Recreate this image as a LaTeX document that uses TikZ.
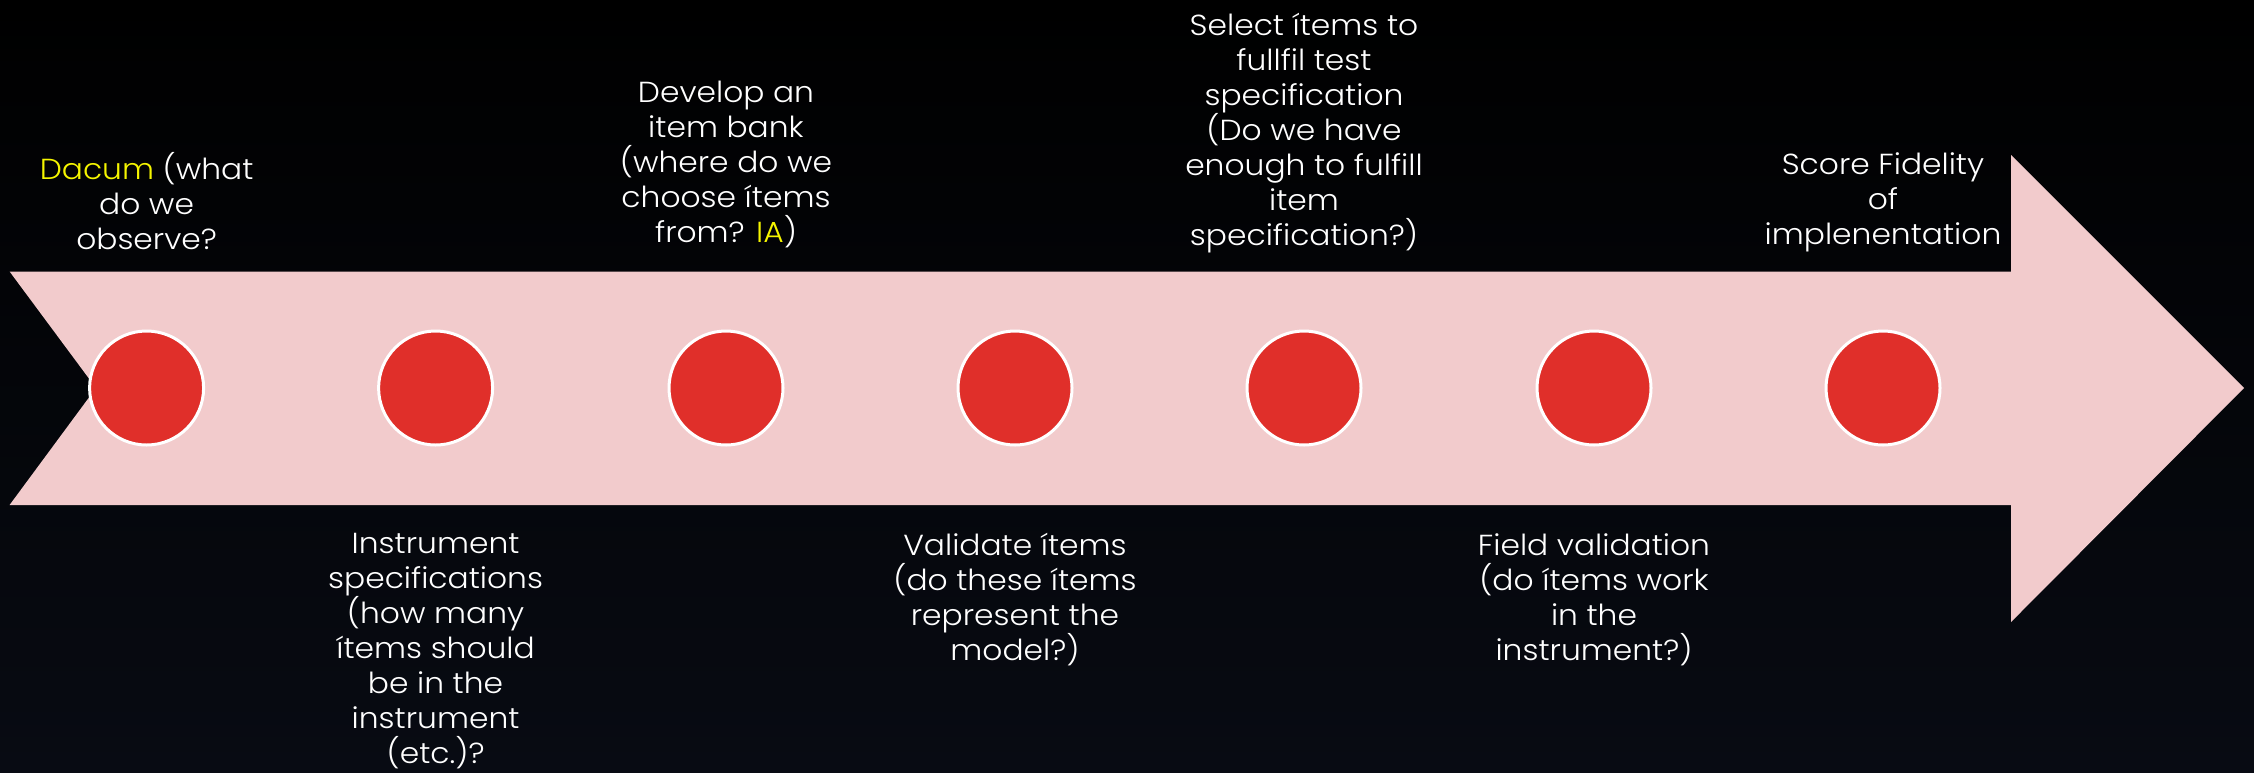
\documentclass[tikz,border=0pt]{standalone}
\usepackage{fontspec}
\setmainfont{Poppins}[UprightFont=* Light, FakeStretch=1.08]
\definecolor{arrowpink}{HTML}{F2CBCC}
\definecolor{dotred}{HTML}{E02F2A}
\definecolor{dyel}{HTML}{F5F500}
\definecolor{bgtop}{HTML}{000000}
\definecolor{bgbot}{HTML}{080B13}
\tikzset{
  dot/.style={circle, fill=dotred, draw=white, line width=2.25pt, minimum size=85.5pt, inner sep=0pt},
  lbl/.style={text=white, align=center, inner sep=0pt, anchor=north,
    font=\fontsize{21.75pt}{26.25pt}\selectfont},
}
\begin{document}
\begin{tikzpicture}[x=0.75pt, y=-0.75pt]
\useasboundingbox (0,0) rectangle (2254,772);
\shade[top color=bgtop, bottom color=bgbot] (0,0) rectangle (2254,772);
% arrow body
\fill[arrowpink] (9.6,271.5) -- (2011,271.5) -- (2011,155) -- (2244,388)
  -- (2011,622) -- (2011,505) -- (9.6,505) -- (96,388) -- cycle;
% dots
\node[dot] (c1) at (146.6,388) {};
\node[dot] (c2) at (435.6,388) {};
\node[dot] (c3) at (726,388) {};
\node[dot] (c4) at (1015,388) {};
\node[dot] (c5) at (1304,388) {};
\node[dot] (c6) at (1594,388) {};
\node[dot] (c7) at (1883,388) {};
% labels above
\node[lbl] (t1) at (146.6,152) {\textcolor{dyel}{Dacum} (what\\do we\\observe?};
\node[lbl] (t3) at (726,81) {Develop an\\item bank\\(where do we\\choose ítems\\from? \textcolor{dyel}{IA})};
\node[lbl] (t5) at (1304,13) {Select ítems to\\fullfil test\\specification\\(Do we have\\enough to fulfill\\item\\specification?)};
\node[lbl] (t7) at (1883,152) {Score Fidelity\\of\\implenentation};
% labels below
\node[lbl] (t2) at (435.6,533) {Instrument\\specifications\\(how many\\ítems should\\be in the\\instrument\\(etc.)?};
\node[lbl] (t4) at (1015,533) {Validate ítems\\(do these ítems\\represent the\\model?)};
\node[lbl] (t6) at (1594,533) {Field validation\\(do ítems work\\in the\\instrument?)};
\end{tikzpicture}
\end{document}
